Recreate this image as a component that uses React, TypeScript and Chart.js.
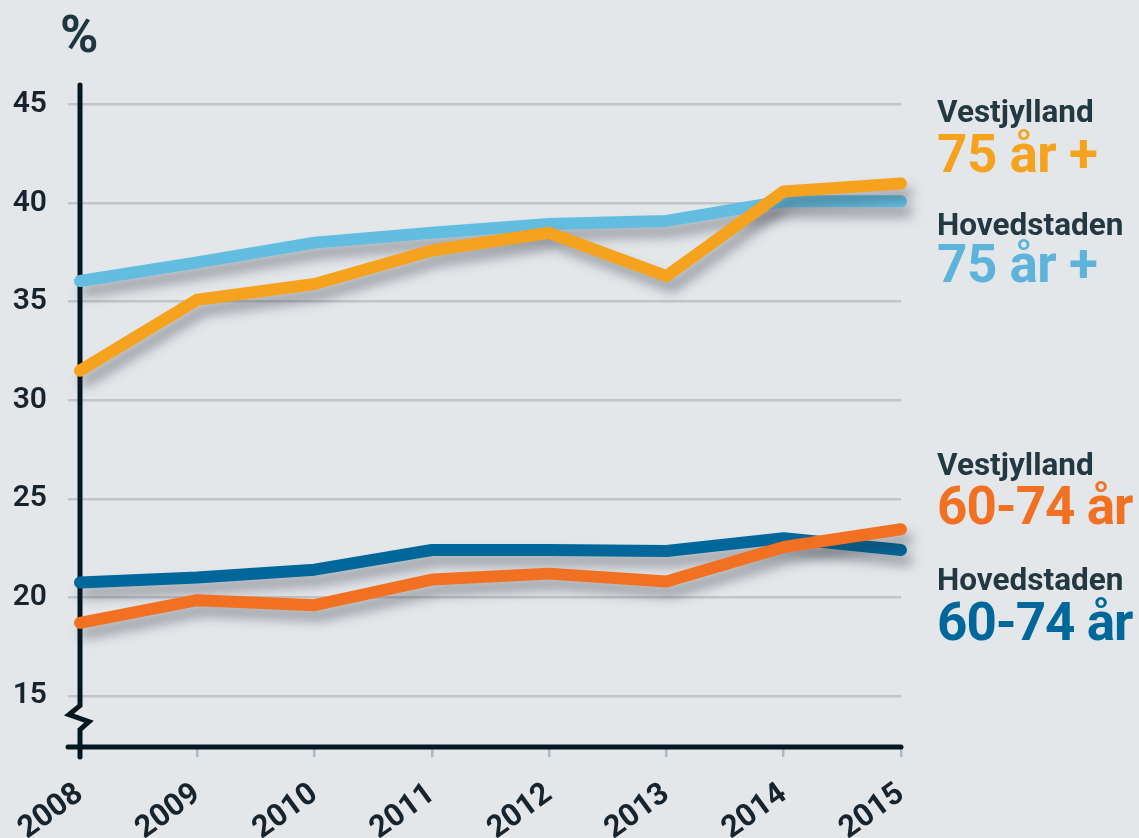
import React, { useEffect, useRef } from "react";
import { Chart, registerables } from "chart.js";

Chart.register(...registerables);

const years = ["2008", "2009", "2010", "2011", "2012", "2013", "2014", "2015"];
const vestjylland75 = [31.5, 35.1, 35.9, 37.6, 38.5, 36.3, 40.6, 41.0];
const vestjylland6074 = [18.7, 19.85, 19.6, 20.9, 21.2, 20.8, 22.55, 23.45];
const hovedstaden75 = [36.05, 37.0, 38.0, 38.5, 38.95, 39.1, 40.1, 40.1];
const hovedstaden6074 = [20.75, 21.0, 21.4, 22.4, 22.4, 22.35, 23.0, 22.4];
const yTicks = [15, 20, 25, 30, 35, 40, 45];

const BG = "#e3e7ea";
const DARK = "#071722";
const FONT = "Roboto, 'Noto Sans', sans-serif";

const shadowPlugin = {
  id: "lineShadow",
  beforeDatasetDraw(chart: any) {
    const ctx = chart.ctx;
    ctx.save();
    ctx.shadowColor = "rgba(40,45,55,0.38)";
    ctx.shadowBlur = 12;
    ctx.shadowOffsetX = 6;
    ctx.shadowOffsetY = 10;
  },
  afterDatasetDraw(chart: any) {
    chart.ctx.restore();
  },
};

const axesPlugin = {
  id: "customAxes",
  beforeDatasetsDraw(chart: any) {
    const ctx = chart.ctx;
    const { left, right, bottom, top } = chart.chartArea;
    const yS = chart.scales.y;
    ctx.save();
    ctx.strokeStyle = DARK;
    ctx.lineWidth = 5;
    ctx.lineCap = "round";
    ctx.lineJoin = "miter";
    // x axis
    ctx.beginPath();
    ctx.moveTo(left - 12, bottom);
    ctx.lineTo(right, bottom);
    ctx.stroke();
    // y axis with break
    const yb = yS.getPixelForValue(14.5);
    ctx.beginPath();
    ctx.moveTo(left, top);
    ctx.lineTo(left, yb);
    ctx.lineTo(left - 11, yb + 9);
    ctx.lineTo(left + 9, yb + 16);
    ctx.lineTo(left, yb + 24);
    ctx.lineTo(left, bottom + 10);
    ctx.stroke();
    ctx.restore();
  },
};

function App() {
  const ref = useRef<HTMLCanvasElement | null>(null);

  useEffect(() => {
    if (!ref.current) return;
    const mk = (label: string, data: number[], color: string) => ({
      label,
      data,
      borderColor: color,
      backgroundColor: color,
      borderWidth: 12,
      borderCapStyle: "round" as const,
      borderJoinStyle: "round" as const,
      pointRadius: 0,
      tension: 0,
      clip: false as any,
    });
    const chart = new Chart(ref.current, {
      type: "line",
      data: {
        labels: years,
        datasets: [
          mk("Vestjylland 75 år +", vestjylland75, "#f5a31f"),
          mk("Vestjylland 60-74 år", vestjylland6074, "#f27022"),
          mk("Hovedstaden 75 år +", hovedstaden75, "#62bde1"),
          mk("Hovedstaden 60-74 år", hovedstaden6074, "#00679a"),
        ],
      },
      options: {
        animation: false,
        responsive: true,
        maintainAspectRatio: false,
        layout: { padding: { left: 0, top: 85, right: 238, bottom: 0 } },
        plugins: { legend: { display: false }, tooltip: { enabled: false } },
        scales: {
          x: {
            offset: false,
            border: { display: false },
            grid: {
              drawOnChartArea: false,
              drawTicks: true,
              tickLength: 10,
              color: "#a9b9c5",
              lineWidth: 2.5,
            },
            ticks: {
              minRotation: 36,
              maxRotation: 36,
              padding: 19,
              color: "#17242d",
              font: { family: FONT, size: 31, weight: "bold" as any },
            },
            afterFit(scale: any) {
              scale.height = 91;
              scale.paddingLeft = 0;
              scale.paddingRight = 0;
            },
          },
          y: {
            min: 12.4,
            max: 46,
            border: { display: false },
            afterBuildTicks(scale: any) {
              scale.ticks = yTicks.map((v) => ({ value: v }));
            },
            grid: {
              color: "#c2c5c8",
              lineWidth: 2.5,
              tickLength: 12,
            },
            ticks: {
              padding: 21,
              color: "#17242d",
              font: { family: FONT, size: 30, weight: "600" as any },
            },
            afterFit(scale: any) {
              scale.width = 80;
            },
          },
        },
      },
      plugins: [axesPlugin, shadowPlugin],
    });
    return () => chart.destroy();
  }, []);

  const lab = (top: number, size: number, color: string, text: string, ls = 0) => (
    <div
      style={{
        position: "absolute",
        left: 937,
        top,
        fontFamily: FONT,
        fontWeight: 700,
        fontSize: size,
        lineHeight: `${size}px`,
        letterSpacing: ls,
        color,
        whiteSpace: "nowrap",
      }}
    >
      {text}
    </div>
  );

  return (
    <div
      style={{
        position: "fixed",
        left: 0,
        top: 0,
        width: 1139,
        height: 838,
        background: BG,
        overflow: "hidden",
      }}
    >
      <canvas ref={ref} style={{ position: "absolute", left: 0, top: 0 }} />
      <div
        style={{
          position: "absolute",
          left: 60,
          top: 9,
          fontFamily: FONT,
          fontWeight: 700,
          fontSize: 52,
          lineHeight: "52px",
          color: "#1f3540",
        }}
      >
        %
      </div>
      {lab(96, 31.5, "#243842", "Vestjylland")}
      {lab(128, 53, "#f5a31f", "75 år +", -0.5)}
      {lab(209, 31.5, "#243842", "Hovedstaden")}
      {lab(238, 53, "#5db3d9", "75 år +", -0.5)}
      {lab(449, 31.5, "#243842", "Vestjylland")}
      {lab(480, 53, "#f27022", "60-74 år", -1)}
      {lab(564, 31.5, "#243842", "Hovedstaden")}
      {lab(596, 53, "#00679a", "60-74 år", -1)}
    </div>
  );
}

export default App;
